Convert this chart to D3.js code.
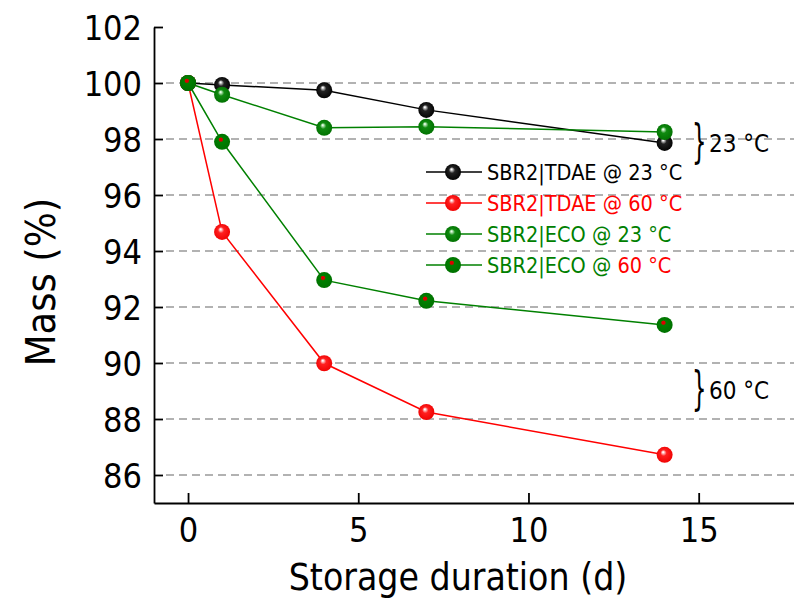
<!DOCTYPE html>
<html>
<head>
<meta charset="utf-8">
<script src="https://cdn.jsdelivr.net/npm/d3@7"></script>
<style>
  body { margin: 0; background: #fff; }
  text { font-family: "DejaVu Sans Condensed", "Liberation Sans Narrow", sans-serif; }
</style>
</head>
<body>
<div id="container"></div>
<script>
var width = 794;
var height = 602;

// storage days and mass values (%) per series
var days = [0, 1, 4, 7, 14];
var tdae23 = [100, 99.93, 99.74, 99.04, 97.86];
var tdae60 = [100, 94.68, 89.99, 88.25, 86.72];
var eco23 = [100, 99.58, 98.40, 98.44, 98.25];
var eco60 = [100, 97.90, 92.96, 92.22, 91.36];

var yTicks = [86, 88, 90, 92, 94, 96, 98, 100, 102];
var xTicks = [0, 5, 10, 15];

var series = [
    { name: "SBR2|TDAE @ 23 °C", values: tdae23, line: "#000000", grad: "gBlack", text: "#000000" },
    { name: "SBR2|TDAE @ 60 °C", values: tdae60, line: "#ff0000", grad: "gRed", text: "#ff0000" },
    { name: "SBR2|ECO @ 23 °C", values: eco23, line: "#008000", grad: "gGreen", text: "#008000" },
    { name: "SBR2|ECO @ 60 °C", values: eco60, line: "#008000", grad: "gGreenRed", text: "#008000" }
];

var xScale = d3.scaleLinear().domain([-1, 17.8]).range([154, 794]);
var yScale = d3.scaleLinear().domain([85, 102]).range([503, 27]);

var svg = d3.select("#container")
    .append("svg")
    .attr("width", width)
    .attr("height", height);

// sphere gradients
var defs = svg.append("defs");
function sphere(id, hi, mid, base, stops) {
    var g = defs.append("radialGradient")
        .attr("id", id)
        .attr("cx", "50%").attr("cy", "50%").attr("r", "55%")
        .attr("fx", "40%").attr("fy", "32%");
    g.append("stop").attr("offset", "0%").attr("stop-color", hi);
    g.append("stop").attr("offset", stops[0]).attr("stop-color", hi);
    g.append("stop").attr("offset", stops[1]).attr("stop-color", mid);
    g.append("stop").attr("offset", "100%").attr("stop-color", base);
}
sphere("gBlack", "#ffffff", "#222222", "#000000", ["5%", "35%"]);
sphere("gRed", "#ffffff", "#ff2020", "#ee0000", ["5%", "35%"]);
sphere("gGreen", "#e8ffe8", "#108a10", "#007000", ["5%", "35%"]);
sphere("gGreenRed", "#dd0000", "#008000", "#007000", ["18%", "30%"]);

// dashed grid
svg.append("g")
    .selectAll("line")
    .data(yTicks.filter(function (d) { return d < 102; }))
    .enter()
    .append("line")
    .attr("x1", 166)
    .attr("x2", width)
    .attr("y1", function (d) { return yScale(d); })
    .attr("y2", function (d) { return yScale(d); })
    .attr("stroke", "#999999")
    .attr("stroke-width", 1.5)
    .attr("stroke-dasharray", "8,5");

// axes
var yAxis = d3.axisLeft(yScale).tickValues(yTicks).tickSizeInner(-9).tickSizeOuter(0).tickPadding(12);
var gy = svg.append("g")
    .attr("transform", "translate(154,0)")
    .call(yAxis);

var xAxis = d3.axisBottom(xScale).tickValues(xTicks).tickSizeInner(-10).tickSizeOuter(0).tickPadding(13);
var gx = svg.append("g")
    .attr("transform", "translate(0,503)")
    .call(xAxis);

[gx, gy].forEach(function (g) {
    g.select(".domain").attr("stroke", "#000").attr("stroke-width", 1.8);
    g.selectAll(".tick line").attr("stroke", "#000").attr("stroke-width", 1.8);
    g.selectAll(".tick text")
        .attr("fill", "#000")
        .attr("font-family", "DejaVu Sans Condensed, sans-serif")
        .attr("font-size", "34px");
});
gx.selectAll(".tick text").attr("dy", "0.75em");
gy.selectAll(".tick text").attr("dy", "0.36em");

// axis titles
svg.append("text")
    .attr("x", 458)
    .attr("y", 590)
    .attr("text-anchor", "middle")
    .attr("font-size", "37px")
    .text("Storage duration (d)");

svg.append("text")
    .attr("transform", "rotate(-90)")
    .attr("x", -282)
    .attr("y", 55)
    .attr("text-anchor", "middle")
    .attr("font-size", "41px")
    .text("Mass (%)");

// lines and markers
var line = d3.line()
    .x(function (d, i) { return xScale(days[i]); })
    .y(function (d) { return yScale(d); });

series.forEach(function (s) {
    svg.append("path")
        .datum(s.values)
        .attr("d", line)
        .attr("fill", "none")
        .attr("stroke", s.line)
        .attr("stroke-width", 1.5);
});

series.forEach(function (s) {
    svg.append("g")
        .selectAll("circle")
        .data(s.values)
        .enter()
        .append("circle")
        .attr("cx", function (d, i) { return xScale(days[i]); })
        .attr("cy", function (d) { return yScale(d); })
        .attr("r", 8)
        .attr("fill", "url(#" + s.grad + ")");
});

// legend
var legend = svg.append("g");
series.forEach(function (s, i) {
    var y = 172 + i * 31;
    legend.append("line")
        .attr("x1", 426).attr("x2", 482)
        .attr("y1", y).attr("y2", y)
        .attr("stroke", s.line)
        .attr("stroke-width", 1.5);
    legend.append("circle")
        .attr("cx", 453).attr("cy", y)
        .attr("r", 8)
        .attr("fill", "url(#" + s.grad + ")");
    var t = legend.append("text")
        .attr("x", 487)
        .attr("y", y + 8)
        .attr("font-size", "21.5px")
        .attr("fill", s.text);
    if (i === 3) {
        t.append("tspan").text("SBR2|ECO @ ");
        t.append("tspan").attr("fill", "#ff0000").text("60 °C");
    } else {
        t.text(s.name);
    }
});

// temperature brackets
var brackets = [
    { label: "23 °C", x: 692, y: 143 },
    { label: "60 °C", x: 692, y: 390 }
];
brackets.forEach(function (b) {
    svg.append("text")
        .attr("x", b.x)
        .attr("y", b.y + 14)
        .attr("font-size", "46px")
        .attr("font-family", "DejaVu Sans, sans-serif")
        .attr("transform", "scale(0.55,1) translate(" + (b.x / 0.55 - b.x) + ",0)")
        .text("}");
    svg.append("text")
        .attr("x", b.x + 17)
        .attr("y", b.y + 9)
        .attr("font-size", "24px")
        .text(b.label);
});
</script>
</body>
</html>
